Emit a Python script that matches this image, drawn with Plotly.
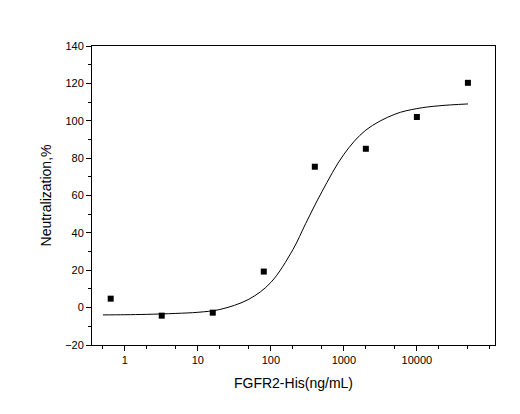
import plotly.graph_objects as go

dose = [0.64, 3.2, 16, 80, 400, 2000, 10000, 50000]
neutral = [4.8, -4.3, -2.7, 19.3, 75.4, 85.0, 102.0, 120.3]

fit_x = [0.5, 1, 2, 5, 10, 20, 50, 100, 200, 300, 500, 1000, 2000, 5000, 10000, 20000, 50000]
fit_y = [-3.9, -3.8, -3.6, -3.1, -2.5, -1.0, 4.5, 13.5, 31, 45, 62, 82, 95, 103.5, 106.5, 108, 109]

fig = go.Figure()
fig.add_trace(go.Scatter(x=fit_x, y=fit_y, mode='lines', line=dict(color='black', width=1, shape='spline'),
                         showlegend=False))
fig.add_trace(go.Scatter(x=dose, y=neutral, mode='markers', marker=dict(symbol='square', size=6, color='black'),
                         showlegend=False))

axis = dict(showline=True, linecolor='black', linewidth=1, mirror=True, ticks='outside', ticklen=5,
            tickcolor='black', showgrid=False, zeroline=False, automargin=False)
fig.update_xaxes(type='log', range=[-0.45, 5.07], tickvals=[1, 10, 100, 1000, 10000],
                 ticktext=['1', '10', '100', '1000', '10000'],
                 minor=dict(ticks='outside', ticklen=3, tickcolor='black'),
                 title=dict(text='FGFR2-His(ng/mL)', font=dict(size=14), standoff=12), **axis)
fig.update_yaxes(range=[-20, 140], dtick=20, minor=dict(ticks='outside', ticklen=3, tickcolor='black', dtick=10),
                 title=dict(text='Neutralization,%', font=dict(size=14), standoff=10), **axis)
fig.update_layout(width=520, height=414, paper_bgcolor='white', plot_bgcolor='white',
                  font=dict(family='Liberation Sans, Arial', color='black', size=11),
                  margin=dict(l=84, r=33, t=38, b=77))
fig.write_html("out.html")
